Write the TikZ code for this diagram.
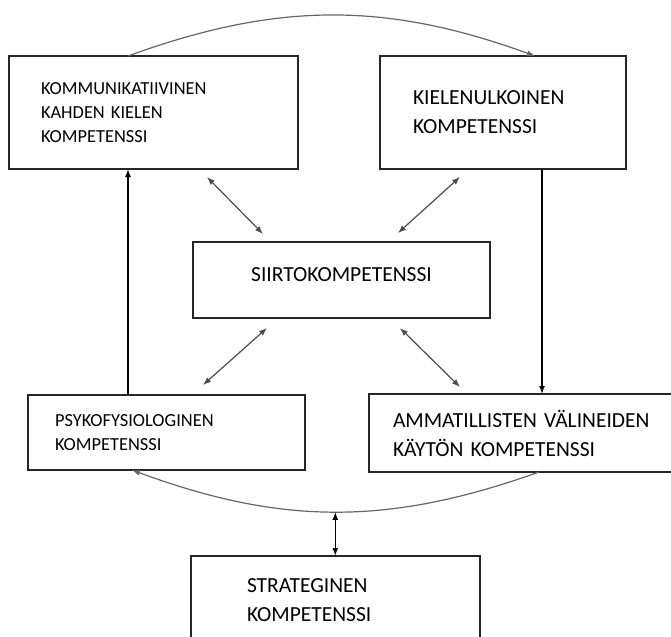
\documentclass[tikz,border=0pt]{standalone}
\usepackage{fontspec}
\setmainfont{Carlito}
\usepackage{tikz}
\usetikzlibrary{arrows.meta,positioning}

\begin{document}
\begin{tikzpicture}[
  x=0.5pt, y=-0.5pt,
  box/.style={draw=black!85, line width=1pt, outer sep=0pt, inner ysep=0pt, align=left},
  small/.style={font=\fontsize{9.2pt}{12pt}\selectfont},
  large/.style={font=\fontsize{10.75pt}{14.5pt}\selectfont},
  arrow/.style={-{Latex[length=4pt,width=3pt]}, line width=0.75pt},
  dblarrow/.style={{Latex[length=4pt,width=3pt]}-{Latex[length=4pt,width=3pt]}, line width=0.75pt},
  biarrow/.style={{Latex[length=4pt,width=3pt]}-{Latex[length=4pt,width=3pt]}, line width=0.6pt, black!70},
  curve/.style={-{Latex[length=4pt,width=3pt]}, line width=0.6pt, black!60}
]
\useasboundingbox (0,0) rectangle (671,637);
\clip (0,0) rectangle (671,637);
\node[box, small, text width=112.5pt, inner xsep=16pt, minimum height=56.5pt] (kom) at (153.5,112.5) {KOMMUNIKATIIVINEN\\KAHDEN KIELEN\\KOMPETENSSI};
\node[box, large, text width=90pt, inner xsep=16.5pt, minimum height=56.5pt, right=41pt of kom] (kie) {KIELENULKOINEN\\KOMPETENSSI};
\node[box, large, align=center, minimum width=148.5pt, minimum height=38pt, text depth=5pt] (siirto) at (341.5,280) {SIIRTOKOMPETENSSI};
\node[box, small, text width=111.5pt, inner xsep=13.5pt, minimum height=37.5pt] (psyko) at (166.5,432.5) {PSYKOFYSIOLOGINEN\\KOMPETENSSI};
\node[box, large, text width=131.5pt, inner xsep=12pt, minimum height=39pt] (ammat) at (524.5,433) {AMMATILLISTEN VÄLINEIDEN\\KÄYTÖN KOMPETENSSI};
\node[box, large, text width=88.5pt, inner xsep=28pt, minimum height=44.5pt] (strat) at (335.5,600.5) {STRATEGINEN\\KOMPETENSSI};

% vertical links
\coordinate (kl) at ([xshift=50pt]psyko.north west);
\coordinate (kr) at ([xshift=81pt]kie.south west);
\draw[arrow] (kl) -- (kl |- kom.south);
\draw[arrow] (kr) -- (kr |- ammat.north);

% arcs
\draw[curve] ([xshift=59.5pt]kom.north west) to[bend left=20] ([xshift=77.5pt]kie.north west);
\draw[curve] ([xshift=85pt]ammat.south west) to[bend left=20] coordinate[pos=0.5] (low) ([xshift=52pt]psyko.south west);
\draw[dblarrow] (low) -- (low |- strat.north);

% links to the centre
\draw[biarrow] ([shift={(198,8)}]kom.south west) -- ([shift={(70,-8)}]siirto.north west);
\draw[biarrow] ([shift={(80,8)}]kie.south west) -- ([shift={(205,-9)}]siirto.north west);
\draw[biarrow] ([shift={(74,10)}]siirto.south west) -- ([shift={(175,-10)}]psyko.north west);
\draw[biarrow] ([shift={(207,10)}]siirto.south west) -- ([shift={(91,-7)}]ammat.north west);
\end{tikzpicture}
\end{document}
